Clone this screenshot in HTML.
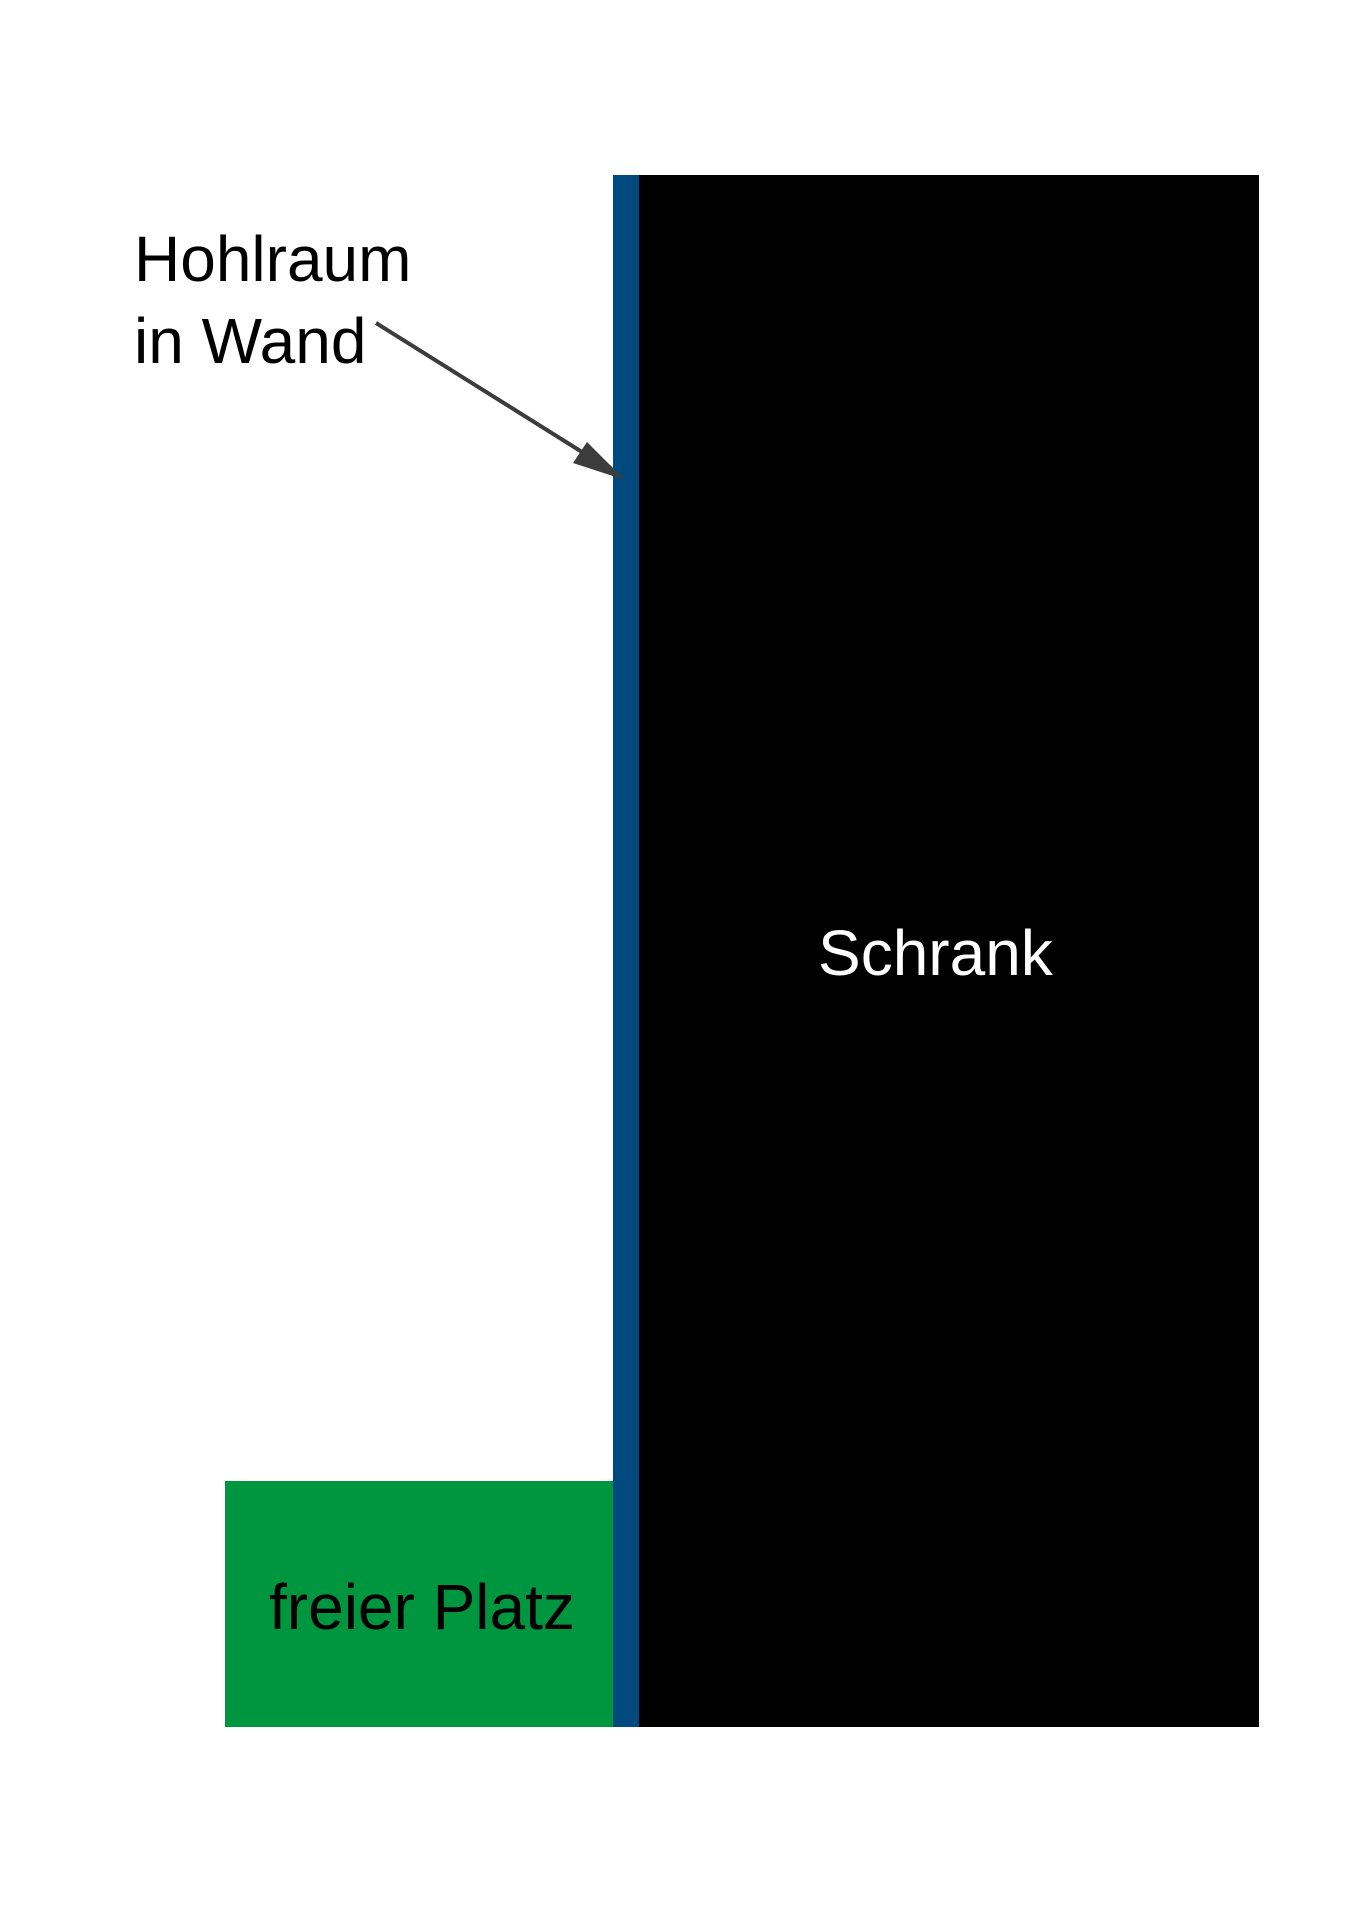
<!DOCTYPE html>
<html><head><style>
html,body{margin:0;padding:0;background:#fff;}
body{width:1357px;height:1920px;position:relative;overflow:hidden;font-family:"Liberation Sans",sans-serif;}
.r{position:absolute;}
.t{position:absolute;font-size:64px;line-height:1;white-space:nowrap;}
</style></head><body>
<div class="r" style="left:225px;top:1481px;width:390px;height:246px;background:#009640;"></div>
<div class="r" style="left:613px;top:175px;width:26px;height:1552px;background:#004a80;"></div>
<div class="r" style="left:639px;top:175px;width:620px;height:1552px;background:#000;"></div>
<div class="t" style="left:134px;top:227px;color:#000;">Hohlraum</div>
<div class="t" style="left:134px;top:309px;color:#000;">in Wand</div>
<div class="t" style="left:269px;top:1575px;color:#000;">freier Platz</div>
<div class="t" style="left:818px;top:921px;color:#fff;">Schrank</div>
<svg class="r" style="left:0;top:0" width="1357" height="1920">
<line x1="376" y1="323" x2="590" y2="457" stroke="#3c3c3c" stroke-width="4"/>
<polygon points="625,480 573,463 587,442" fill="#3c3c3c"/>
</svg>
</body></html>
